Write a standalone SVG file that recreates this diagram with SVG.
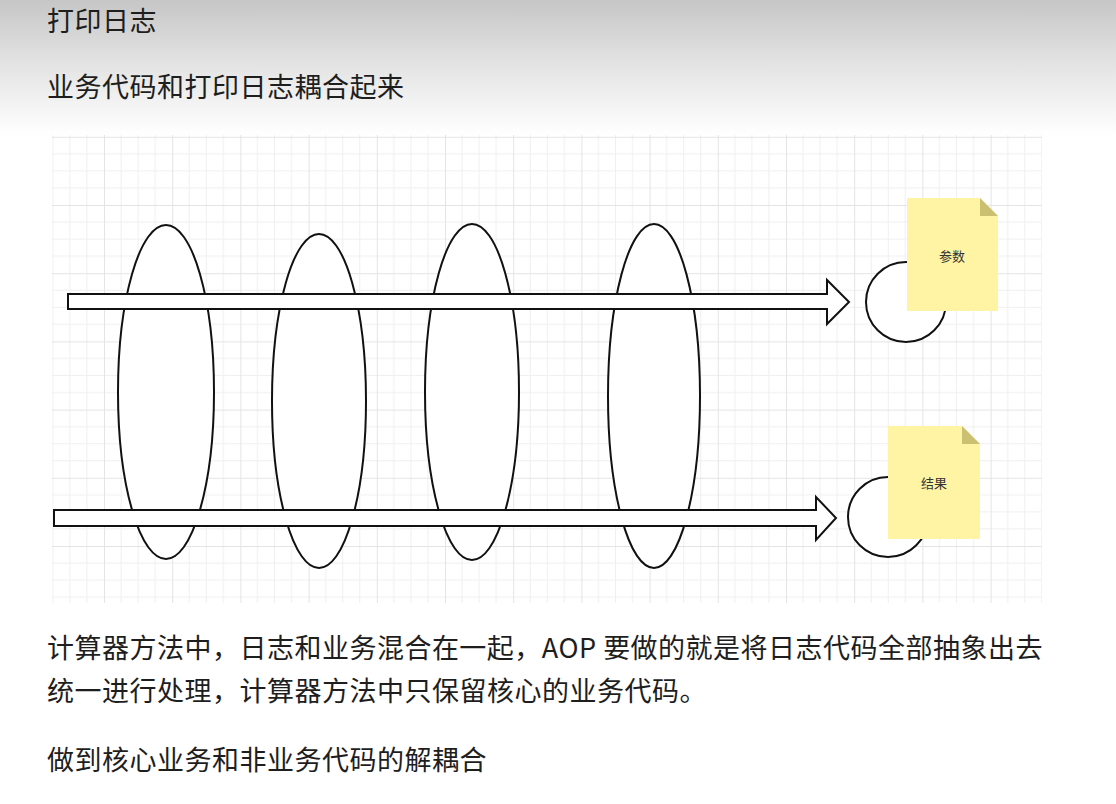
<svg xmlns="http://www.w3.org/2000/svg" width="1116" height="804" viewBox="0 0 1116 804">
<defs>
<linearGradient id="hdr" x1="0" y1="0" x2="0" y2="1">
<stop offset="0" stop-color="#c6c6c6"/>
<stop offset="0.45" stop-color="#e2e2e2"/>
<stop offset="1" stop-color="#ffffff"/>
</linearGradient>
<pattern id="grid" patternUnits="userSpaceOnUse" x="104" y="136.8" width="68.2" height="68.2">
<path d="M17.05 0V68.2M34.1 0V68.2M51.15 0V68.2M0 17.05H68.2M0 34.1H68.2M0 51.15H68.2" stroke="#f0f0f0" stroke-width="1" fill="none"/>
<path d="M0.5 0V68.2M0 0.5H68.2" stroke="#e4e4e4" stroke-width="1" fill="none"/>
</pattern>
<style>
.t{font-family:"Noto Sans CJK SC","Microsoft YaHei",sans-serif;fill:#1e1e1e;font-size:27px;letter-spacing:0.5px}
.shape{fill:#fff;stroke:#111;stroke-width:2}
.note{fill:#fff4a3}
.fold{fill:#cbbf72}
.lbl{font-family:"Noto Sans CJK SC",sans-serif;font-size:13px;fill:#333;text-anchor:middle}
</style>
</defs>
<rect width="1116" height="804" fill="#fff"/>
<rect width="1116" height="135" fill="url(#hdr)"/>
<text class="t" x="47" y="31">打印日志</text>
<text class="t" x="47" y="97">业务代码和打印日志耦合起来</text>
<rect x="52" y="135" width="990" height="468" fill="url(#grid)"/>
<g id="ellipses">
<ellipse id="e1" class="shape" cx="166" cy="392" rx="48" ry="167"/>
<ellipse id="e2" class="shape" cx="319" cy="401" rx="47" ry="167"/>
<ellipse id="e3" class="shape" cx="472" cy="392" rx="47" ry="168"/>
<ellipse id="e4" class="shape" cx="654" cy="396" rx="46" ry="172"/>
</g>
<g id="connectors">
<polygon class="shape" points="68,294 827,294 827,280 849,302 827,324 827,309 68,309"/>
<polygon class="shape" points="54,510 816,510 816,497 836,518 816,540 816,526 54,526"/>
</g>
<g id="circle1"><circle class="shape" cx="906" cy="302" r="40"/></g>
<g id="circle2"><circle class="shape" cx="888" cy="517" r="40"/></g>
<g id="note1">
<polygon class="note" points="907,198 980,198 998,216 998,311 907,311"/>
<polygon class="fold" points="980,198 998,216 980,216"/>
<text class="lbl" x="952" y="261">参数</text>
</g>
<g id="note2">
<polygon class="note" points="888,426 962,426 980,444 980,539 888,539"/>
<polygon class="fold" points="962,426 980,444 962,444"/>
<text class="lbl" x="934" y="488">结果</text>
</g>
<text class="t" x="47" y="658" textLength="996" lengthAdjust="spacing">计算器方法中，日志和业务混合在一起，AOP 要做的就是将日志代码全部抽象出去</text>
<text class="t" x="47" y="701">统一进行处理，计算器方法中只保留核心的业务代码。</text>
<text class="t" x="47" y="770">做到核心业务和非业务代码的解耦合</text>
</svg>
